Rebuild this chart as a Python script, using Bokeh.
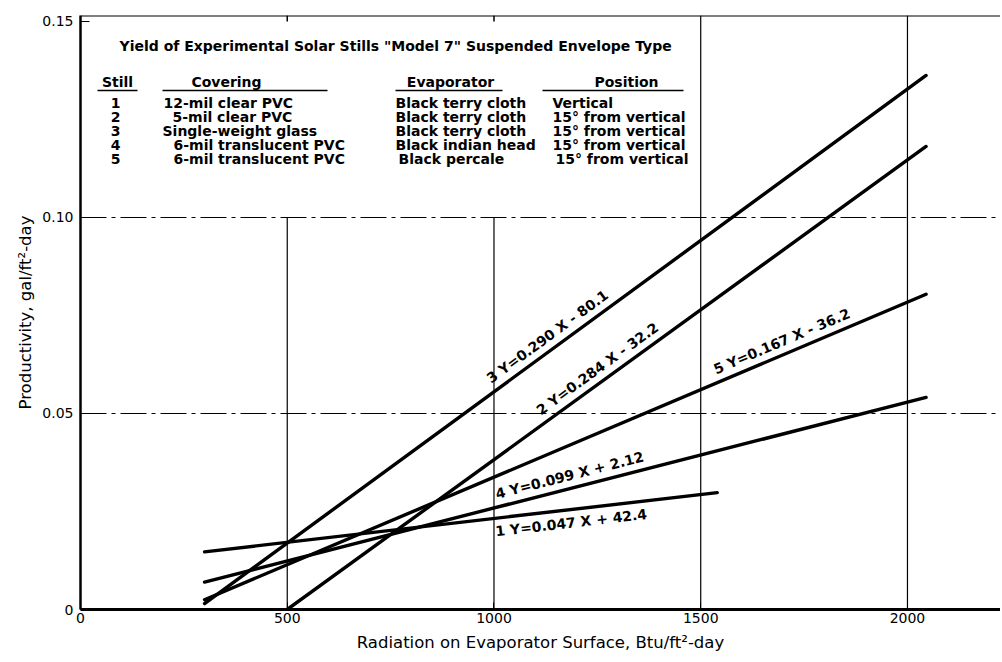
import math
from bokeh.plotting import figure
from bokeh.models import FixedTicker, Range1d, Span
from bokeh.core.properties import value
from bokeh.embed import file_html
from bokeh.resources import INLINE

# ---------------- data ----------------
stills = ["1", "2", "3", "4", "5"]
x_start = [300, 500, 300, 300, 300]          # Btu/ft2-day
x_end = [1540, 2045, 2045, 2045, 2045]
y_start = [0.0147, 0.0, 0.0015, 0.0070, 0.0025]  # gal/ft2-day
y_end = [0.0298, 0.1181, 0.1362, 0.0541, 0.0804]
equations = ["1  Y=0.047 X + 42.4", "2  Y=0.284 X - 32.2", "3  Y=0.290 X - 80.1",
             "4  Y=0.099 X + 2.12", "5  Y=0.167 X - 36.2"]

x_ticks = [0, 500, 1000, 1500, 2000]
y_ticks = [0, 0.05, 0.10, 0.15]
y_tick_labels = ["0", "0.05", "0.10", "0.15"]
v_grid = [500, 1000, 1500, 2000]
h_grid = [0.05, 0.10]
top_ticks = [500, 1000]

table_title = 'Yield of Experimental Solar Stills "Model 7" Suspended Envelope Type'
headers = ["Still", "Covering", "Evaporator", "Position"]
covering = ["12-mil clear PVC", "5-mil clear PVC", "Single-weight glass",
            "6-mil translucent PVC", "6-mil translucent PVC"]
evaporator = ["Black terry cloth", "Black terry cloth", "Black terry cloth",
              "Black indian head", "Black percale"]
position = ["Vertical", "15\u00b0 from vertical", "15\u00b0 from vertical",
            "15\u00b0 from vertical", "15\u00b0 from vertical"]

# ---------------- layout ----------------
W, H = 1000, 655
ML, MT, MB = 80, 15, 46
FW, FH = W - ML, H - MT - MB
X_END, Y_END = 2225, 0.1515
SX, SY = FW / X_END, FH / Y_END
PX0, PY0 = ML, MT + FH   # page pixel of data origin

def dx(px):
    return (px - PX0) / SX

def dy(py):
    return (PY0 - py) / SY

FONT = "DejaVu Sans"

p = figure(width=W, height=H, x_range=Range1d(0, X_END), y_range=Range1d(0, Y_END),
           output_backend="svg", toolbar_location=None,
           min_border_left=ML, min_border_top=MT, min_border_bottom=MB, min_border_right=0)
p.outline_line_color = None
p.background_fill_color = "white"
p.border_fill_color = "white"

# axes
xa = p.xaxis[0]
xa.ticker = FixedTicker(ticks=x_ticks)
xa.axis_line_width = 3
xa.major_tick_in = 7
xa.major_tick_out = 0
xa.minor_tick_line_color = None
xa.major_label_standoff = 3
xa.major_label_text_font = FONT
xa.major_label_text_font_size = "14px"
xa.major_label_text_color = "black"
xa.axis_label = "Radiation on Evaporator Surface, Btu/ft\u00b2-day"
xa.axis_label_text_font = FONT
xa.axis_label_text_font_size = "16.5px"
xa.axis_label_text_font_style = "normal"
xa.axis_label_text_color = "black"
xa.axis_label_standoff = 7

ya = p.yaxis[0]
ya.ticker = FixedTicker(ticks=y_ticks)
ya.major_label_overrides = {t: s for t, s in zip(y_ticks, y_tick_labels)}
ya.axis_line_width = 2.5
ya.major_tick_in = 9
ya.major_tick_out = 0
ya.minor_tick_line_color = None
ya.major_label_standoff = 7
ya.major_label_text_font = FONT
ya.major_label_text_font_size = "14px"
ya.major_label_text_color = "black"
ya.axis_label = "Productivity, gal/ft\u00b2-day"
ya.axis_label_text_font = FONT
ya.axis_label_text_font_size = "16.5px"
ya.axis_label_text_font_style = "normal"
ya.axis_label_text_color = "black"
ya.axis_label_standoff = 4

# top border with small inward ticks
p.add_layout(Span(location=Y_END, dimension="width", line_color="black", line_width=2))
p.segment(x0=top_ticks, x1=top_ticks, y0=[Y_END] * len(top_ticks),
          y1=[Y_END - 6 / SY] * len(top_ticks), line_color="black", line_width=1.5)

# grid
p.xgrid.visible = False
p.ygrid.ticker = FixedTicker(ticks=h_grid)
p.ygrid.grid_line_color = "black"
p.ygrid.grid_line_width = 1.2
p.ygrid.grid_line_alpha = 1.0
p.ygrid.grid_line_dash = "26 5 4 5"

v_top = [0.10 if v < 1500 else Y_END for v in v_grid]
p.segment(x0=v_grid, y0=[0] * len(v_grid), x1=v_grid, y1=v_top, line_color="black", line_width=1.2)

# regression lines
p.segment(x0=x_start, y0=y_start, x1=x_end, y1=y_end, line_color="black", line_width=3.4,
          line_cap="round")

# equation labels along the lines
label_x = [1000, 1125, 1005, 1012, 1545]
label_gap = [-5, 5, 5, 5, 5]
for i in range(5):
    x0, x1, y0, y1 = x_start[i], x_end[i], y_start[i], y_end[i]
    a = math.atan2((y1 - y0) * SY, (x1 - x0) * SX)
    lx = label_x[i]
    ly = y0 + (lx - x0) * (y1 - y0) / (x1 - x0)
    d = label_gap[i]
    tx = lx - d * math.sin(a) / SX
    ty = ly + d * math.cos(a) / SY
    p.text(x=[tx], y=[ty], text=[equations[i]], angle=a,
           text_align="left", text_baseline="top" if d < 0 else "bottom",
           text_font=value(FONT), text_font_size="14px", text_font_style="bold",
           text_color="black")

# table in the upper-left box
def put(texts, pxs, pys, align="left", size="14px"):
    p.text(x=[dx(v) for v in pxs], y=[dy(v) for v in pys], text=texts,
           text_align=align, text_baseline="middle", text_font=value(FONT),
           text_font_size=size, text_font_style="bold", text_color="black")

put([table_title], [119], [45])
hdr_y = 81
put(headers, [117, 226, 450, 626], [hdr_y] * 4, align="center")
ul = [(97, 137), (162, 327), (395, 502), (542, 683)]
p.segment(x0=[dx(a) for a, b in ul], x1=[dx(b) for a, b in ul],
          y0=[dy(hdr_y + 9)] * 4, y1=[dy(hdr_y + 9)] * 4, line_color="black", line_width=1.5)
row_y = [102, 116, 130, 144, 158]
put(stills, [115] * 5, row_y, align="center")
put(covering, [163, 172, 162, 173, 173], row_y)
put(evaporator, [395, 395, 395, 395, 398], row_y)
put(position, [552, 552, 552, 552, 555], row_y)

open("out.html", "w").write(file_html(p, INLINE))
